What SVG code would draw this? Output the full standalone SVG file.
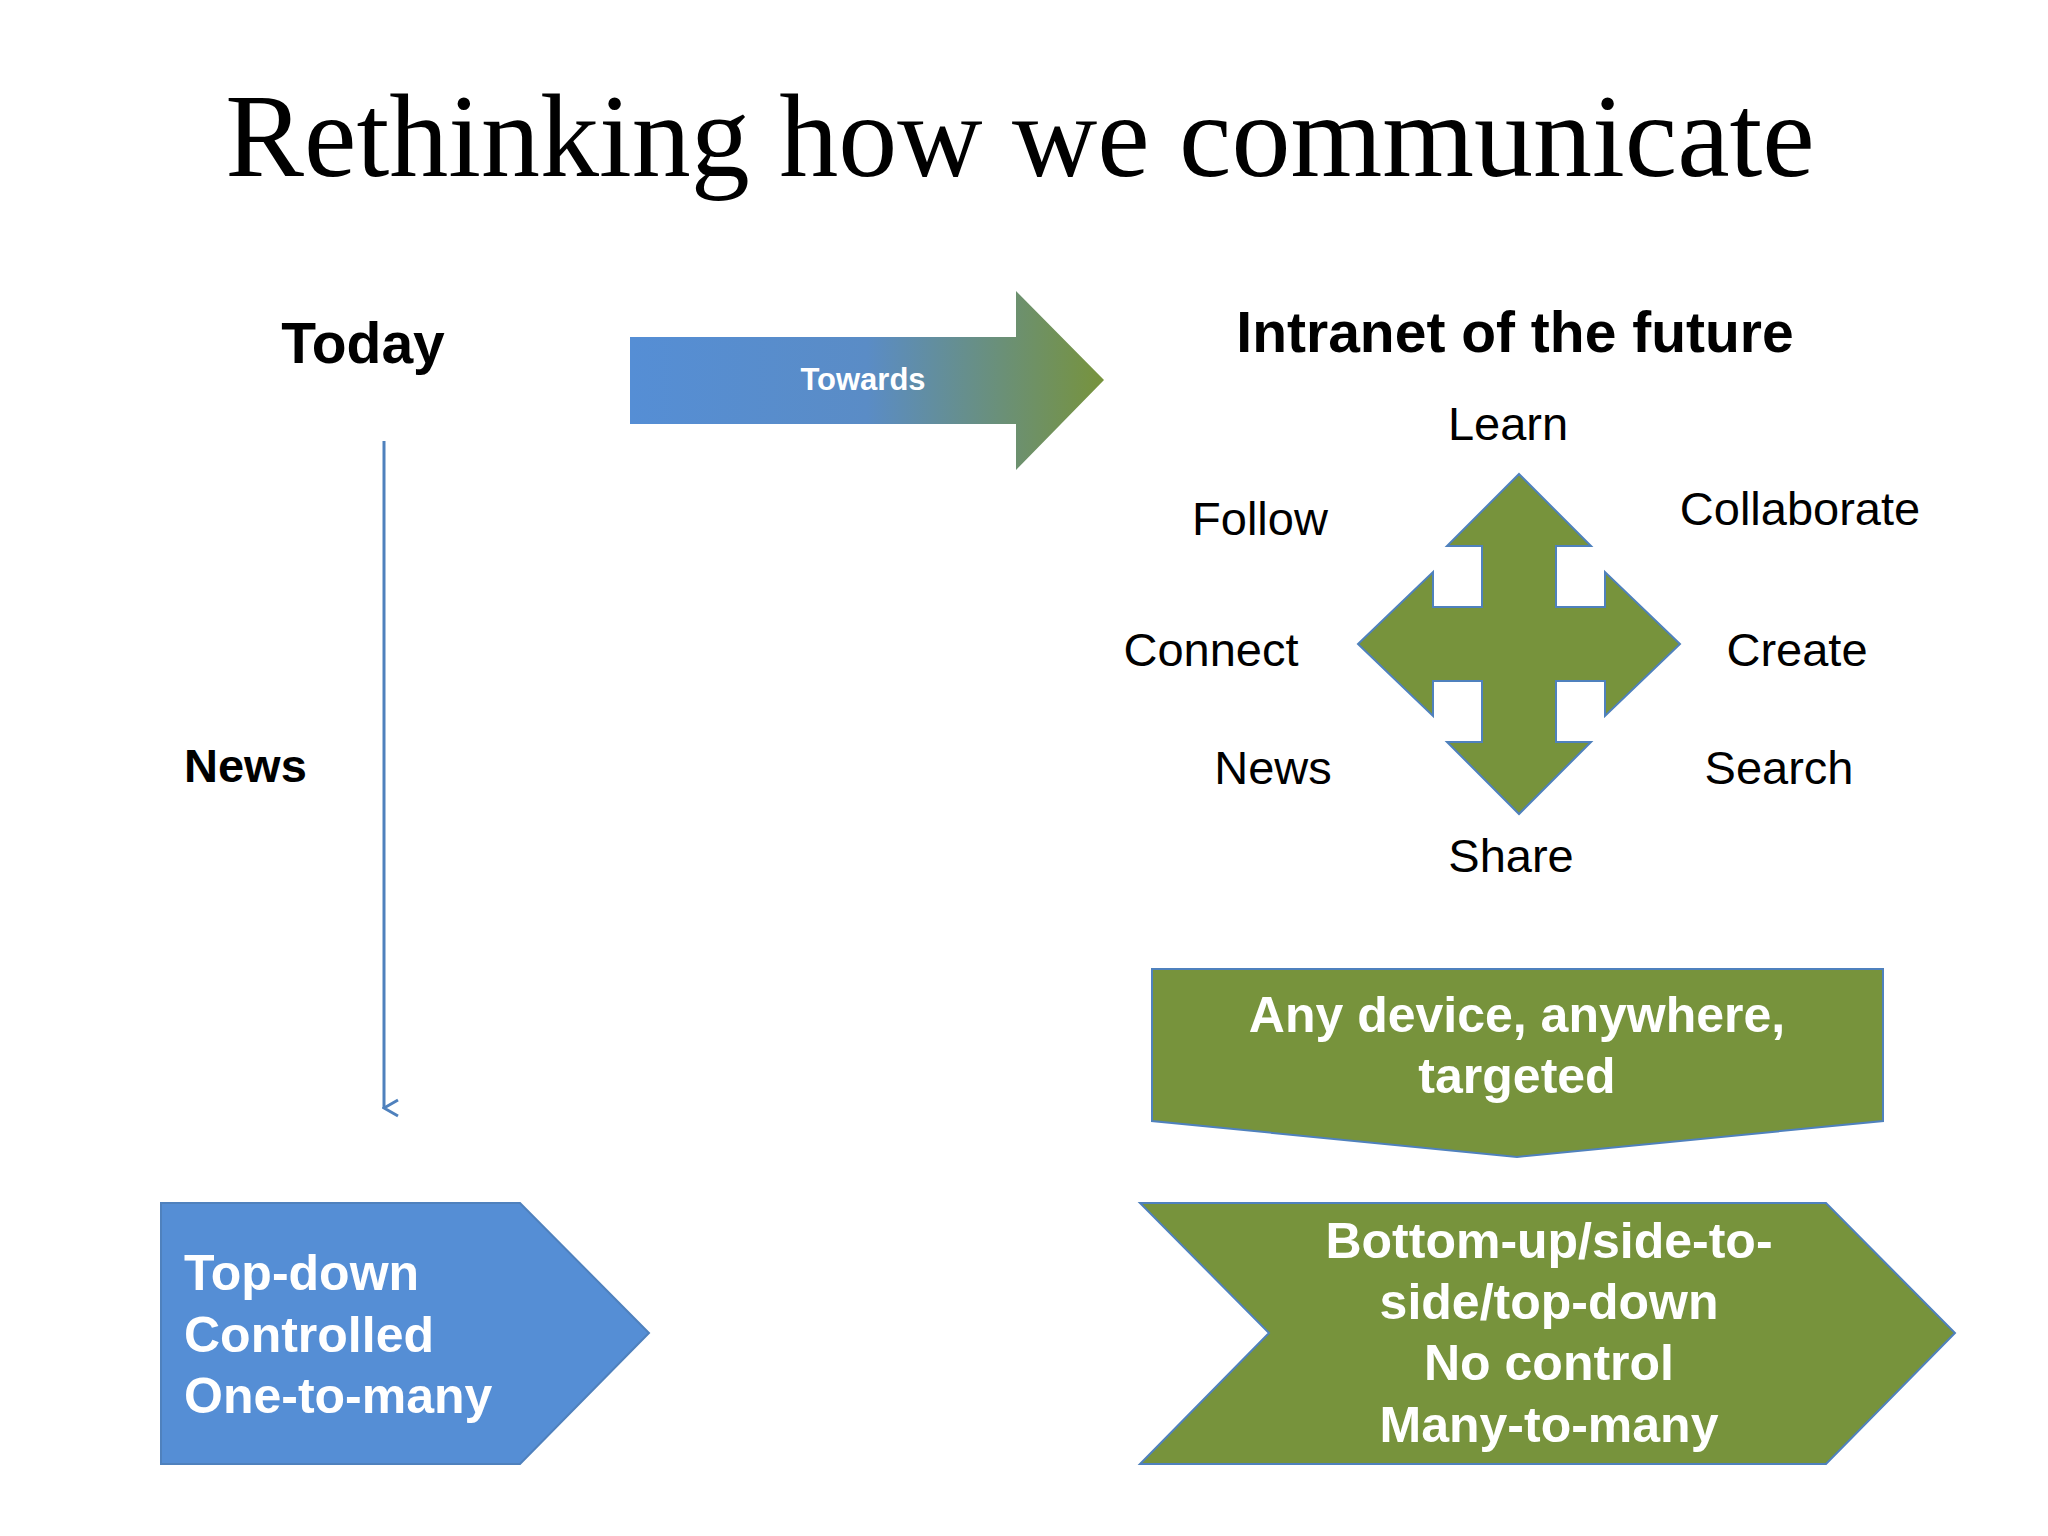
<svg xmlns="http://www.w3.org/2000/svg" width="2048" height="1536" viewBox="0 0 2048 1536">
<defs>
<linearGradient id="g" x1="0" x2="1" y1="0" y2="0"><stop offset="0" stop-color="#558ED5"/><stop offset="0.5" stop-color="#5A8CC6"/><stop offset="1" stop-color="#77933C"/></linearGradient>
<marker id="v" markerWidth="20" markerHeight="20" refX="10" refY="18" orient="auto" markerUnits="userSpaceOnUse"><path d="M2,4 L10,18 L18,4" fill="none" stroke="#4F81BD" stroke-width="3"/></marker>
<style>
.h{font-family:"Liberation Sans",Arial,sans-serif;font-weight:bold;fill:#000}
.l{font-family:"Liberation Sans",Arial,sans-serif;font-size:47px;fill:#000;text-anchor:middle}
.w{font-family:"Liberation Sans",Arial,sans-serif;font-weight:bold;font-size:50px;fill:#fff}
.gr{fill:#77933C;stroke:#4F81BD;stroke-width:2}
</style>
</defs>
<rect width="2048" height="1536" fill="#fff"/>
<text x="1020" y="176" text-anchor="middle" font-family="Liberation Serif,serif" font-size="118" fill="#000">Rethinking how we communicate</text>
<g id="today"><text class="h" x="363" y="363" font-size="57" text-anchor="middle">Today</text></g>
<g id="towards"><path d="M630,337 H1016 V291 L1104,380 L1016,470 V424 H630 Z" fill="url(#g)"/><text x="863" y="390" font-family="Liberation Sans,Arial,sans-serif" font-weight="bold" font-size="31" fill="#fff" text-anchor="middle">Towards</text></g>
<g id="future"><text class="h" x="1515" y="352" font-size="57" text-anchor="middle">Intranet of the future</text></g>
<g id="connectors"><line x1="384" y1="441" x2="384" y2="1108" stroke="#4F81BD" stroke-width="3" marker-end="url(#v)"/></g>
<g id="news-left"><text class="h" x="184" y="782" font-size="47">News</text></g>
<g id="cross"><path class="gr" d="M1519,474 L1591,546 L1556,546 L1556,607 L1605,607 L1605,572 L1680,644 L1605,716 L1605,681 L1556,681 L1556,742 L1591,742 L1519,814 L1447,742 L1482,742 L1482,681 L1433,681 L1433,716 L1358,644 L1433,572 L1433,607 L1482,607 L1482,546 L1447,546 Z"/></g>
<g id="labels">
<text class="l" x="1508" y="440">Learn</text>
<text class="l" x="1260" y="535">Follow</text>
<text class="l" x="1800" y="525">Collaborate</text>
<text class="l" x="1211" y="666">Connect</text>
<text class="l" x="1797" y="666">Create</text>
<text class="l" x="1273" y="784">News</text>
<text class="l" x="1779" y="784">Search</text>
<text class="l" x="1511" y="872">Share</text>
</g>
<g id="any-device"><path class="gr" d="M1152,969 H1883 V1121 L1517,1157 L1152,1121 Z"/>
<text class="w" x="1517" y="1032" text-anchor="middle">Any device, anywhere,</text><text class="w" x="1517" y="1093" text-anchor="middle">targeted</text></g>
<g id="top-down"><path d="M161,1203 H520 L649,1333 L520,1464 H161 Z" fill="#558ED5" stroke="#4F81BD" stroke-width="2"/>
<text class="w" x="184" y="1290">Top-down</text><text class="w" x="184" y="1352">Controlled</text><text class="w" x="184" y="1413">One-to-many</text></g>
<g id="bottom-up"><path class="gr" d="M1140,1203 H1826 L1955,1333 L1826,1464 H1140 L1269,1333 Z"/>
<text class="w" x="1549" y="1258" text-anchor="middle">Bottom-up/side-to-</text><text class="w" x="1549" y="1319" text-anchor="middle">side/top-down</text><text class="w" x="1549" y="1380" text-anchor="middle">No control</text><text class="w" x="1549" y="1442" text-anchor="middle">Many-to-many</text></g>
</svg>
